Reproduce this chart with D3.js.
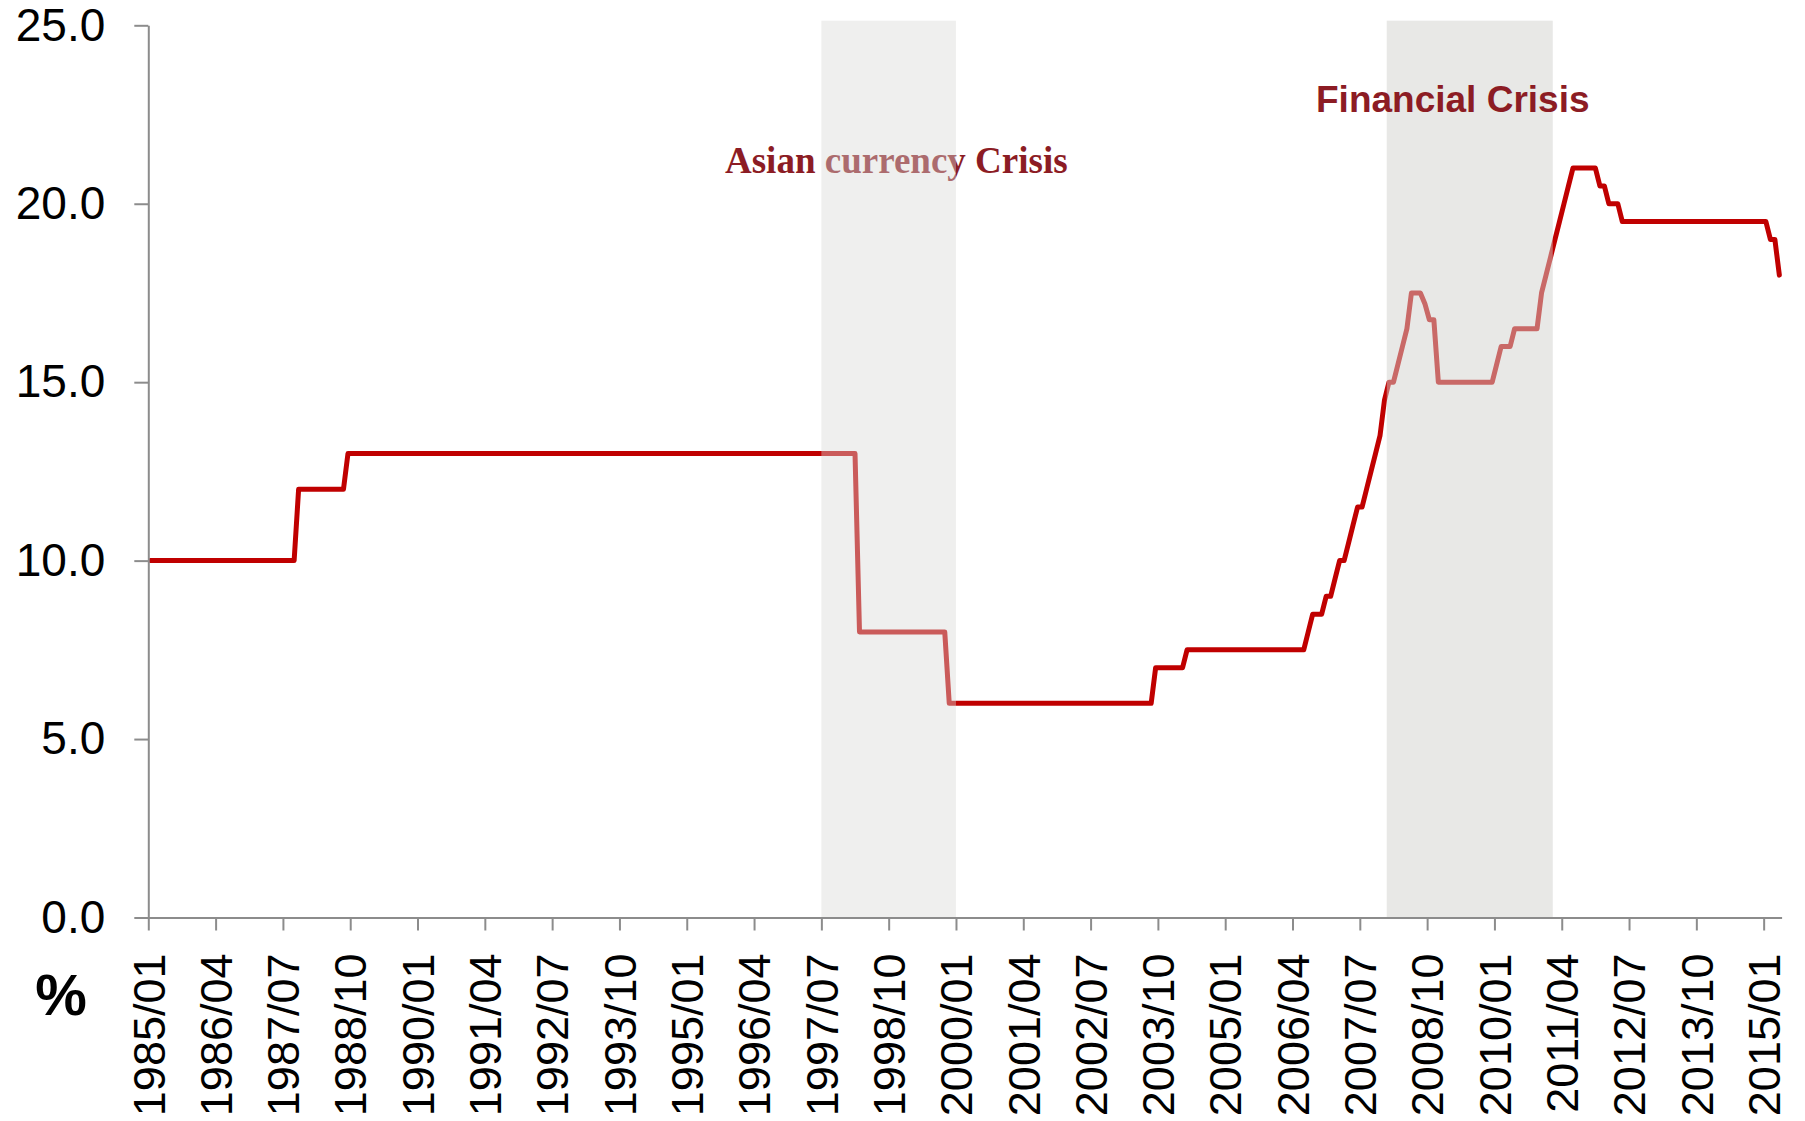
<!DOCTYPE html>
<html>
<head>
<meta charset="utf-8">
<script src="https://cdn.jsdelivr.net/npm/d3@7"></script>
<style>
  html, body { margin: 0; padding: 0; background: #ffffff; }
  svg { display: block; }
</style>
</head>
<body>
<div id="chart"></div>
<script>
// Required reserve ratio (%), monthly series, listed at the months where the path turns
const months = [
  "1985/01","1987/09","1987/10","1988/08","1988/09","1998/02","1998/03","1999/10","1999/11",
  "2003/08","2003/09","2004/03","2004/04","2006/06","2006/07","2006/08","2006/10","2006/11",
  "2006/12","2007/01","2007/02","2007/03","2007/04","2007/05","2007/06","2007/07","2007/08",
  "2007/09","2007/10","2007/11","2007/12","2008/01","2008/02","2008/03","2008/04","2008/05",
  "2008/06","2008/08","2008/09","2008/10","2008/11","2008/12","2009/12","2010/01","2010/02",
  "2010/04","2010/05","2010/10","2010/11","2010/12","2011/01","2011/02","2011/03","2011/04",
  "2011/05","2011/06","2011/11","2011/12","2012/01","2012/02","2012/04","2012/05","2015/01",
  "2015/02","2015/03","2015/04"
];
const rates = [
  10, 10, 12, 12, 13, 13, 8, 8, 6,
  6, 7, 7, 7.5, 7.5, 8, 8.5, 8.5, 9,
  9, 9.5, 10, 10, 10.5, 11, 11.5, 11.5, 12,
  12.5, 13, 13.5, 14.5, 15, 15, 15.5, 16, 16.5,
  17.5, 17.5, 17.2, 16.75, 16.75, 15, 15, 15.5, 16,
  16, 16.5, 16.5, 17.5, 18, 18.5, 19, 19.5, 20,
  20.5, 21, 21, 20.5, 20.5, 20, 20, 19.5, 19.5,
  19, 19, 18
];

// Category axis: first and last month of the series
const firstMonth = "1985/01";
const lastMonth = "2015/04";

// Category tick labels (every 15 months)
const xTickLabels = [
  "1985/01","1986/04","1987/07","1988/10","1990/01","1991/04","1992/07","1993/10",
  "1995/01","1996/04","1997/07","1998/10","2000/01","2001/04","2002/07","2003/10",
  "2005/01","2006/04","2007/07","2008/10","2010/01","2011/04","2012/07","2013/10","2015/01"
];
const yTicks = [0, 5, 10, 15, 20, 25];

// Shaded crisis periods
const bandNames = ["Asian currency Crisis", "Financial Crisis"];
const bandStart = ["1997/07", "2008/01"];
const bandEnd   = ["1999/12", "2011/01"];

const unitLabel = "%";

// ---- layout ----
const W = 1805, H = 1121;
const plotLeft = 148.3, plotRight = 1781.6, plotTop = 20.7, plotBottom = 917.5;

const monthIndex = s => {
  const [yy, mm] = s.split("/").map(Number);
  return (yy - 1985) * 12 + (mm - 1);
};
const nCats = monthIndex(lastMonth) - monthIndex(firstMonth) + 1;

const x = d3.scaleLinear().domain([0, nCats]).range([plotLeft, plotRight]);
const y = d3.scaleLinear().domain([0, 25]).range([plotBottom, 25.3]);

const svg = d3.select("#chart").append("svg")
  .attr("width", W).attr("height", H)
  .attr("viewBox", `0 0 ${W} ${H}`);

const series = months.map((m, i) => ({ i: monthIndex(m), v: rates[i] }));

// line (drawn first so the crisis shading tints it)
const line = d3.line()
  .x(d => x(d.i + 0.5))
  .y(d => y(d.v));

svg.append("path")
  .datum(series)
  .attr("d", line)
  .attr("fill", "none")
  .attr("stroke", "#c00000")
  .attr("stroke-width", 5)
  .attr("stroke-linejoin", "round")
  .attr("stroke-linecap", "round");

const annotColor = "#8c1c24";

// Asian crisis label sits underneath the translucent shading
svg.append("text")
  .attr("x", 725).attr("y", 172.7)
  .attr("font-family", "'Liberation Serif', 'Times New Roman', serif")
  .attr("font-weight", "bold")
  .attr("font-size", 37)
  .attr("fill", annotColor)
  .text(bandNames[0]);

// translucent crisis shading
const bandFill = ["rgba(217,217,215,0.42)", "rgba(209,209,205,0.5)"];
bandNames.forEach((name, k) => {
  const x0 = x(monthIndex(bandStart[k]));
  const x1 = x(monthIndex(bandEnd[k]) + 1);
  svg.append("rect")
    .attr("x", x0).attr("y", plotTop)
    .attr("width", x1 - x0).attr("height", y(0) - plotTop)
    .attr("fill", bandFill[k]);
});

// Financial crisis label drawn above the shading
svg.append("text")
  .attr("x", 1316).attr("y", 111.7)
  .attr("font-family", "'Liberation Sans', Arial, sans-serif")
  .attr("font-weight", "bold")
  .attr("font-size", 37)
  .attr("fill", annotColor)
  .text(bandNames[1]);

// ---- axes ----
const axisColor = "#8c8c8c";
const labelFont = "'Liberation Sans', Arial, sans-serif";

const yAxis = d3.axisLeft(y)
  .tickValues(yTicks)
  .tickFormat(d3.format(".1f"))
  .tickSizeInner(14)
  .tickSizeOuter(0)
  .tickPadding(29);

const gy = svg.append("g")
  .attr("transform", `translate(${plotLeft},0)`)
  .call(yAxis);
gy.select(".domain").attr("stroke", axisColor).attr("stroke-width", 2);
gy.selectAll(".tick line").attr("stroke", axisColor).attr("stroke-width", 2);
gy.selectAll(".tick text")
  .attr("font-family", labelFont)
  .attr("font-size", 46)
  .attr("fill", "#000");

const xTickPos = xTickLabels.map(monthIndex);
const xAxis = d3.axisBottom(x)
  .tickValues(xTickPos)
  .tickFormat((d, i) => xTickLabels[i])
  .tickSizeInner(13)
  .tickSizeOuter(0);

const gx = svg.append("g")
  .attr("transform", `translate(0,${plotBottom})`)
  .call(xAxis);
gx.select(".domain").attr("stroke", axisColor).attr("stroke-width", 2);
gx.selectAll(".tick line").attr("stroke", axisColor).attr("stroke-width", 2);
gx.selectAll(".tick text")
  .attr("font-family", labelFont)
  .attr("font-size", 45)
  .attr("fill", "#000")
  .attr("text-anchor", "end")
  .attr("transform", "translate(0,36) rotate(-90)")
  .attr("x", 0).attr("y", 0)
  .attr("dy", "0.35em");

// unit label
svg.append("text")
  .attr("x", 61).attr("y", 1015)
  .attr("text-anchor", "middle")
  .attr("font-family", labelFont)
  .attr("font-weight", "bold")
  .attr("font-size", 58)
  .attr("fill", "#000")
  .text(unitLabel);
</script>
</body>
</html>
